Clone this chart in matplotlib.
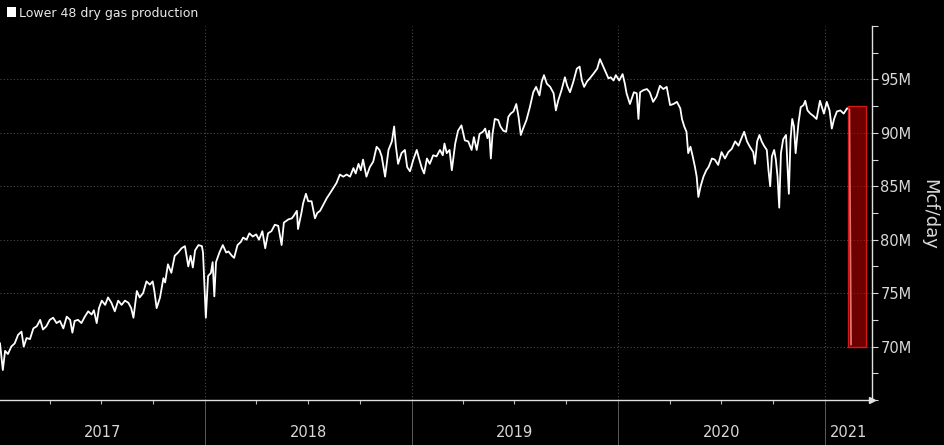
import matplotlib
matplotlib.use('Agg')
import matplotlib.pyplot as plt
import matplotlib.dates as mdates
import matplotlib.transforms as mtransforms
from matplotlib.patches import Rectangle
from matplotlib.ticker import MultipleLocator, FixedLocator, NullFormatter
import pandas as pd

# Lower 48 dry gas production, Mcf/day (millions), days counted from 2017-01-01
start = pd.Timestamp('2017-01-01')
day = [2, 7, 11, 16, 22, 28, 34, 40, 44, 49, 55, 61, 67, 73, 78, 84, 90, 96, 102, 108,
       114, 120, 126, 130, 134, 140, 146, 152, 158, 164, 168, 173, 177, 182, 188, 193, 199, 205, 211, 217,
       223, 229, 234, 238, 244, 249, 255, 261, 267, 272, 275, 279, 285, 291, 294, 299, 305, 311, 317, 323,
       329, 335, 339, 343, 347, 353, 359, 361, 366, 370, 375, 378, 381, 384, 390, 396, 402, 406, 412, 416,
       422, 428, 432, 438, 443, 449, 455, 460, 466, 471, 476, 482, 488, 494, 500, 504, 512, 518, 521, 527,
       529, 535, 538, 543, 547, 553, 559, 563, 568, 574, 580, 585, 591, 597, 603, 609, 615, 621, 627, 631,
       636, 640, 644, 650, 656, 662, 668, 673, 677, 683, 689, 695, 699, 702, 706, 712, 718, 722, 727, 733,
       739, 743, 748, 752, 757, 762, 768, 774, 780, 785, 788, 792, 797, 801, 807, 812, 818, 824, 830, 836,
       840, 845, 850, 856, 860, 864, 867, 870, 873, 877, 883, 887, 892, 897, 901, 905, 910, 915, 919, 923,
       927, 933, 939, 945, 950, 956, 960, 964, 969, 975, 981, 985, 989, 995, 1001, 1005, 1010, 1016, 1022, 1027,
       1031, 1035, 1040, 1045, 1051, 1058, 1063, 1068, 1072, 1078, 1082, 1087, 1091, 1097, 1103, 1107, 1110, 1116, 1123, 1128,
       1131, 1134, 1140, 1146, 1151, 1157, 1163, 1169, 1175, 1181, 1187, 1193, 1199, 1205, 1208, 1212, 1216, 1219, 1223, 1227,
       1231, 1234, 1237, 1241, 1246, 1251, 1255, 1261, 1266, 1272, 1278, 1284, 1290, 1296, 1302, 1308, 1314, 1318, 1323, 1328,
       1334, 1337, 1341, 1345, 1349, 1353, 1358, 1361, 1364, 1367, 1371, 1374, 1377, 1380, 1383, 1387, 1392, 1394, 1397, 1400,
       1403, 1406, 1409, 1414, 1418, 1423, 1426, 1430, 1435, 1440, 1446, 1452, 1459, 1464, 1469, 1473, 1477, 1482, 1488, 1494,
       1500, 1504, 1507]
prod = [70.3, 67.8, 69.6, 69.3, 70.0, 70.3, 71.1, 71.4, 70.0, 70.8, 70.7, 71.7, 71.9, 72.5, 71.6, 71.9, 72.5, 72.7, 72.2, 72.4,
        71.7, 72.8, 72.5, 71.3, 72.4, 72.5, 72.2, 72.8, 73.3, 73.0, 73.4, 72.2, 73.6, 74.3, 73.9, 74.6, 74.1, 73.3, 74.3, 73.9,
        74.3, 74.1, 73.6, 72.7, 75.2, 74.6, 75.0, 76.1, 75.8, 76.1, 75.2, 73.6, 74.6, 76.4, 76.0, 77.7, 76.9, 78.5, 78.8, 79.2,
        79.4, 77.5, 78.5, 77.4, 79.0, 79.5, 79.4, 78.8, 72.7, 76.6, 76.9, 77.9, 74.7, 77.9, 78.8, 79.5, 78.8, 78.9, 78.5, 78.3,
        79.5, 79.8, 80.2, 80.0, 80.6, 80.3, 80.5, 80.0, 80.8, 79.2, 80.6, 80.8, 81.4, 81.3, 79.5, 81.6, 81.9, 82.0, 82.2, 82.7,
        81.0, 82.5, 83.4, 84.3, 83.6, 83.6, 82.0, 82.5, 82.7, 83.3, 83.9, 84.3, 84.8, 85.3, 86.1, 85.9, 86.1, 85.9, 86.7, 86.2,
        87.1, 86.5, 87.5, 85.9, 86.8, 87.3, 88.7, 88.4, 87.8, 85.9, 88.4, 89.2, 90.6, 88.8, 87.1, 88.1, 88.4, 86.8, 86.4, 87.5,
        88.4, 87.6, 86.7, 86.2, 87.6, 87.1, 87.9, 87.8, 88.4, 87.9, 89.0, 88.1, 88.4, 86.5, 89.0, 90.2, 90.7, 89.3, 89.2, 88.4,
        89.6, 88.4, 89.9, 90.1, 90.4, 89.5, 90.2, 87.6, 89.9, 91.3, 91.2, 90.6, 90.2, 90.1, 91.5, 91.8, 92.0, 92.7, 91.5, 89.8,
        90.4, 91.2, 92.4, 93.8, 94.3, 93.5, 94.8, 95.4, 94.6, 94.3, 93.7, 92.1, 93.0, 94.0, 95.2, 94.4, 93.8, 94.8, 96.0, 96.2,
        94.9, 94.3, 94.8, 95.1, 95.5, 96.0, 96.9, 96.3, 95.8, 95.1, 95.2, 94.9, 95.4, 94.9, 95.5, 94.6, 93.7, 92.7, 93.8, 93.7,
        91.3, 93.8, 94.0, 94.1, 93.8, 92.9, 93.4, 94.4, 94.1, 94.3, 92.6, 92.7, 92.9, 92.3, 91.3, 90.6, 90.1, 88.1, 88.7, 87.8,
        86.8, 85.9, 84.0, 85.0, 85.9, 86.5, 86.8, 87.6, 87.5, 87.0, 88.2, 87.6, 88.2, 88.5, 89.2, 88.8, 89.6, 90.1, 89.2, 88.7,
        88.2, 87.1, 89.2, 89.8, 89.2, 88.8, 88.4, 86.5, 85.0, 87.8, 88.4, 87.5, 85.9, 83.0, 88.1, 89.4, 89.8, 87.5, 84.3, 89.4,
        91.3, 90.6, 88.1, 90.9, 92.4, 92.6, 93.0, 92.1, 91.8, 91.6, 91.3, 93.0, 91.8, 92.9, 92.1, 90.4, 91.3, 92.0, 92.1, 91.8,
        92.3, 92.2, 70.2]
years = ['2017', '2018', '2019', '2020', '2021']
x_end = '2021-03-25'
# highlighted freeze drop
hl_from, hl_to = '2021-02-10', '2021-03-14'
hl_low, hl_high = 70.0, 92.5

dates = start + pd.to_timedelta(day, unit='D')
x0 = mdates.date2num(pd.Timestamp('2017-01-03'))
x1 = mdates.date2num(pd.Timestamp(x_end))

fig = plt.figure(figsize=(9.44, 4.45), dpi=100, facecolor='black')
ax = fig.add_axes([0, 0.1011, 0.9237, 0.8405])
ax.set_facecolor('black')

ax.plot(dates, prod, color='white', lw=1.3, zorder=2)

hx = mdates.date2num(pd.Timestamp(hl_from))
hw = mdates.date2num(pd.Timestamp(hl_to)) - hx
ax.add_patch(Rectangle((hx, hl_low), hw, hl_high - hl_low,
                       facecolor=(0.8, 0.0, 0.0, 0.55), edgecolor=(0.9, 0.1, 0.1, 0.9),
                       lw=1, zorder=3))

ax.set_xlim(x0, x1)
ax.set_ylim(65, 100)

# y axis on the right
ax.yaxis.tick_right()
ax.yaxis.set_major_locator(FixedLocator([70, 75, 80, 85, 90, 95]))
ax.yaxis.set_minor_locator(MultipleLocator(2.5))
ax.yaxis.set_major_formatter(lambda v, p: '%dM' % v)
ax.tick_params(axis='y', which='both', colors='#d8d8d8', labelsize=10.5, length=4, width=0.8, pad=2)
ax.tick_params(axis='y', which='minor', length=4)

# x axis: year separators + quarter ticks
ax.xaxis.set_major_locator(mdates.YearLocator())
ax.xaxis.set_minor_locator(mdates.MonthLocator(bymonth=[4, 7, 10]))
ax.xaxis.set_major_formatter(NullFormatter())
ax.tick_params(axis='x', which='major', length=33, width=0.6, color='#6a6a6a')
ax.tick_params(axis='x', which='minor', length=3, width=0.8, color='#bbbbbb')

ax.grid(which='major', color='#4a4a4a', ls=(0, (1, 2)), lw=0.8)

for s in ['top', 'left']:
    ax.spines[s].set_visible(False)
for s in ['right', 'bottom']:
    ax.spines[s].set_color('#e0e0e0')
    ax.spines[s].set_linewidth(1)
ax.plot([1], [0], marker='>', ms=4, color='#e0e0e0', transform=ax.transAxes, clip_on=False)

trans = mtransforms.blended_transform_factory(ax.transData, ax.transAxes)
for y in years:
    a = max(mdates.date2num(pd.Timestamp(y + '-01-01')), x0)
    b = min(mdates.date2num(pd.Timestamp(str(int(y) + 1) + '-01-01')), x1)
    ax.text((a + b) / 2, -0.086, y, transform=trans, ha='center', va='center',
            fontsize=10.5, color='#d8d8d8')

# legend & unit label
fig.add_artist(Rectangle((6.5 / 944, 1 - 17.3 / 445), 9.5 / 944, 10 / 445,
                         transform=fig.transFigure, facecolor='white', edgecolor='none'))
fig.text(19 / 944, 1 - 13.3 / 445, 'Lower 48 dry gas production', ha='left', va='center',
         fontsize=9, color='#e8e8e8')
fig.text(929 / 944, 1 - 214 / 445, 'Mcf/day', rotation=270, ha='center', va='center',
         fontsize=13, color='#d8d8d8')

fig.savefig('out.png', dpi=100, facecolor='black')
